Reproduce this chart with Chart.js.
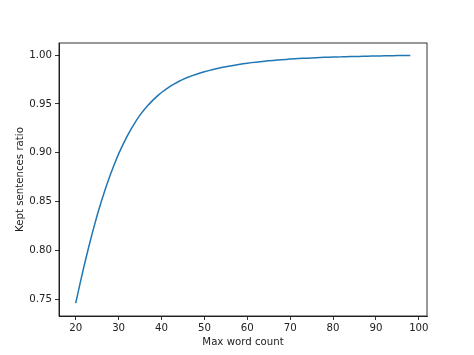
<!DOCTYPE html>
<html>
<head>
<meta charset="utf-8">
<script src="https://cdn.jsdelivr.net/npm/chart.js@4"></script>
<style>
html,body{margin:0;padding:0;background:#fff;}
#wrap{width:474px;height:355px;position:relative;}
</style>
</head>
<body>
<div id="wrap"><canvas id="c" width="474" height="355"></canvas></div>
<script>
const wordCounts = [20,21,22,23,24,25,26,27,28,29,30,31,32,33,34,35,36,37,38,39,40,41,42,43,44,45,46,47,48,49,50,51,52,53,54,55,56,57,58,59,60,61,62,63,64,65,66,67,68,69,70,71,72,73,74,75,76,77,78,79,80,81,82,83,84,85,86,87,88,89,90,91,92,93,94,95,96,97,98];
const keptRatio = [0.746,0.766,0.785,0.803,0.820,0.836,0.8505,0.8642,0.8768,0.8883,0.8988,0.9083,0.9170,0.9250,0.9322,0.9388,0.9443,0.9493,0.9539,0.9580,0.9617,0.9650,0.9680,0.9706,0.9730,0.9751,0.9770,0.9787,0.9802,0.9816,0.9829,0.9841,0.9852,0.9862,0.9872,0.9881,0.9889,0.9897,0.9904,0.9911,0.9917,0.9923,0.9928,0.9933,0.9938,0.9942,0.9946,0.9950,0.9953,0.9956,0.9959,0.9962,0.9965,0.9967,0.9969,0.9971,0.9973,0.9975,0.9977,0.9978,0.9980,0.9981,0.9982,0.9984,0.9985,0.9986,0.9987,0.9988,0.9989,0.9990,0.9991,0.9992,0.9993,0.9993,0.9994,0.9995,0.9995,0.9996,0.9997];
const xTicks = [20,30,40,50,60,70,80,90,100];
const yTicks = [0.75,0.80,0.85,0.90,0.95,1.00];
const xLabel = "Max word count";
const yLabel = "Kept sentences ratio";

const FONT = {family:"DejaVu Sans", size:10.2};
const frame = {
  id:'frame',
  afterDraw(chart){
    const a = chart.chartArea, ctx = chart.ctx;
    ctx.save();
    ctx.strokeStyle = '#000';
    ctx.lineWidth = 0.8;
    ctx.strokeRect(a.left, a.top, a.right - a.left, a.bottom - a.top);
    ctx.restore();
  }
};

new Chart(document.getElementById('c'), {
  type:'line',
  data:{
    datasets:[{
      data: wordCounts.map((x,i)=>({x:x, y:keptRatio[i]})),
      borderColor:'#1f77b4',
      borderWidth:1.5,
      pointRadius:0,
      tension:0,
      fill:false
    }]
  },
  options:{
    responsive:false,
    animation:false,
    devicePixelRatio:1,
    layout:{padding:{left:0,right:47,top:43,bottom:0}},
    plugins:{legend:{display:false},tooltip:{enabled:false}},
    scales:{
      x:{
        type:'linear',
        min:16.1, max:101.9,
        afterBuildTicks(s){ s.ticks = xTicks.map(v=>({value:v})); },
        afterFit(s){ s.height = 39; },
        grid:{display:true, drawOnChartArea:false, drawTicks:true, tickLength:4, color:'#000', lineWidth:0.8},
        border:{display:true, color:'#000', width:0.8},
        ticks:{color:'#222', font:FONT, padding:2, maxRotation:0, callback:v=>String(v)},
        title:{display:true, text:xLabel, color:'#222', font:FONT, padding:{top:0,bottom:7}}
      },
      y:{
        type:'linear',
        min:0.7328, max:1.0124,
        afterBuildTicks(s){ s.ticks = yTicks.map(v=>({value:v})); },
        afterFit(s){ s.width = 59; },
        grid:{display:true, drawOnChartArea:false, drawTicks:true, tickLength:4, color:'#000', lineWidth:0.8},
        border:{display:true, color:'#000', width:0.8},
        ticks:{color:'#222', font:FONT, padding:3, callback:v=>v.toFixed(2)},
        title:{display:true, text:yLabel, color:'#222', font:FONT, padding:{top:14,bottom:0}}
      }
    }
  },
  plugins:[frame]
});
</script>
</body>
</html>
